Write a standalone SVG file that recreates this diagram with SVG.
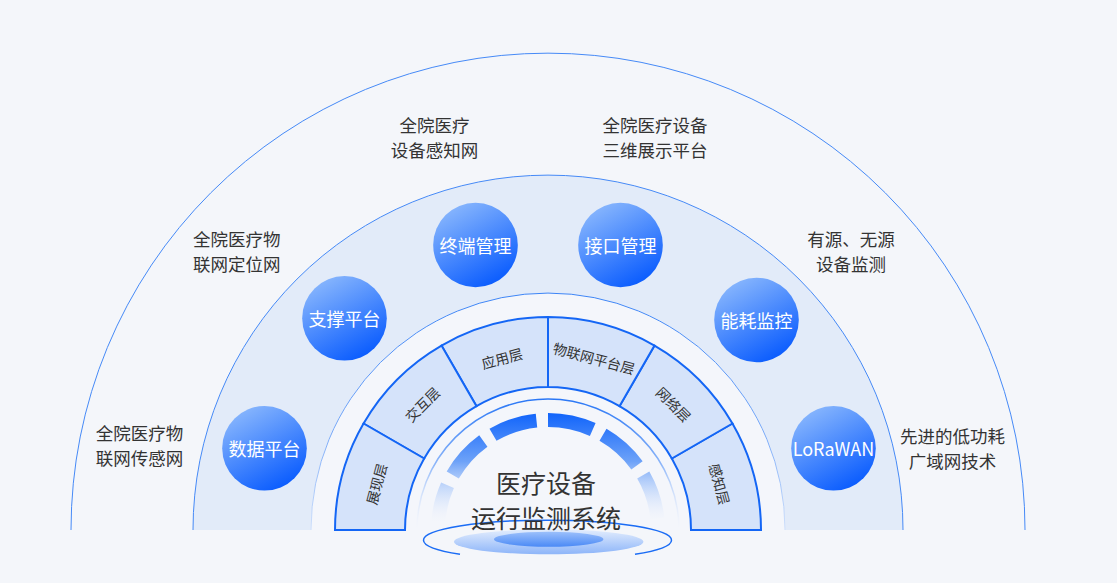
<svg xmlns="http://www.w3.org/2000/svg" width="1117" height="583" viewBox="0 0 1117 583">
<defs>
<style>
.lbl{font-family:"Noto Sans CJK SC","Noto Sans",sans-serif;font-size:17.5px;fill:#333333;text-anchor:middle;dominant-baseline:central}
.node-t{font-family:"Noto Sans CJK SC","Noto Sans",sans-serif;font-size:18px;fill:#ffffff;text-anchor:middle;dominant-baseline:central}
.layer-t{font-family:"Noto Sans CJK SC","Noto Sans",sans-serif;font-size:14px;fill:#333333;text-anchor:middle;dominant-baseline:central}
.title{font-family:"Noto Sans CJK SC","Noto Sans",sans-serif;font-size:25px;fill:#333333;text-anchor:middle;dominant-baseline:central}
.seg{fill:#d5e3fa;stroke:#1466f5;stroke-width:2;stroke-linejoin:miter}
.thin{fill:none;stroke:#468af7;stroke-width:1}
.gauge{fill:none;stroke:url(#gaugeG);stroke-width:14}
.node{fill:url(#nodeG)}
</style>
<linearGradient id="nodeG" x1="0.25" y1="0.05" x2="0.75" y2="0.95">
<stop offset="0" stop-color="#85b4fd"/>
<stop offset="1" stop-color="#0a5cfe"/>
</linearGradient>
<linearGradient id="gaugeG" gradientUnits="userSpaceOnUse" x1="0" y1="412" x2="0" y2="522">
<stop offset="0" stop-color="#0f63fb"/>
<stop offset="0.45" stop-color="#6da2f8"/>
<stop offset="1" stop-color="#e6eefc" stop-opacity="0"/>
</linearGradient>
<linearGradient id="fadeG" gradientUnits="userSpaceOnUse" x1="0" y1="293" x2="0" y2="530">
<stop offset="0" stop-color="#3c84f6"/>
<stop offset="0.6" stop-color="#7aaaf8"/>
<stop offset="1" stop-color="#cfe0fb"/>
</linearGradient>
<linearGradient id="innerG" gradientUnits="userSpaceOnUse" x1="0" y1="399" x2="0" y2="530">
<stop offset="0" stop-color="#2a77f6"/>
<stop offset="0.5" stop-color="#8db6f9"/>
<stop offset="1" stop-color="#e8effc" stop-opacity="0"/>
</linearGradient>
<linearGradient id="ellG" x1="0" y1="0" x2="0" y2="1">
<stop offset="0" stop-color="#e3edfd"/>
<stop offset="1" stop-color="#8db5f9"/>
</linearGradient>
<linearGradient id="ell2G" x1="0" y1="0" x2="0" y2="1">
<stop offset="0" stop-color="#9cc0fb"/>
<stop offset="1" stop-color="#4b8af6"/>
</linearGradient>
</defs>
<rect width="1117" height="583" fill="#f4f6fa"/>

<g id="rings">
<path d="M71 530 A477 477 0 0 1 1025 530" class="thin"/>
<path d="M193 530 A355 355 0 0 1 903 530 Z" fill="#e2ebf9"/>
<path d="M193 530 A355 355 0 0 1 903 530" class="thin"/>
<path d="M311 530 A237 237 0 0 1 785 530 Z" fill="#f4f6fb"/>
<path d="M311 530 A237 237 0 0 1 785 530" fill="none" stroke="url(#fadeG)" stroke-width="1"/>
</g>

<g id="layers">
<g id="layer-perception">
<path class="seg" d="M761 530 A213 213 0 0 0 732.46 423.5 L671.84 458.5 A143 143 0 0 1 691 530 Z"/>
<text class="layer-t" transform="translate(719.93 483.93) rotate(75)">感知层</text>
</g>
<g id="layer-network">
<path class="seg" d="M732.46 423.5 A213 213 0 0 0 654.5 345.54 L619.5 406.16 A143 143 0 0 1 671.84 458.5 Z"/>
<text class="layer-t" transform="translate(673.86 404.14) rotate(45)">网络层</text>
</g>
<g id="layer-iot">
<path class="seg" d="M654.5 345.54 A213 213 0 0 0 548 317 L548 387 A143 143 0 0 1 619.5 406.16 Z"/>
<text class="layer-t" transform="translate(594.07 358.07) rotate(15)">物联网平台层</text>
</g>
<g id="layer-app">
<path class="seg" d="M548 317 A213 213 0 0 0 441.5 345.54 L476.5 406.16 A143 143 0 0 1 548 387 Z"/>
<text class="layer-t" transform="translate(501.93 358.07) rotate(-15)">应用层</text>
</g>
<g id="layer-interact">
<path class="seg" d="M441.5 345.54 A213 213 0 0 0 363.54 423.5 L424.16 458.5 A143 143 0 0 1 476.5 406.16 Z"/>
<text class="layer-t" transform="translate(422.14 404.14) rotate(-45)">交互层</text>
</g>
<g id="layer-display">
<path class="seg" d="M363.54 423.5 A213 213 0 0 0 335 530 L405 530 A143 143 0 0 1 424.16 458.5 Z"/>
<text class="layer-t" transform="translate(376.07 483.93) rotate(-75)">展现层</text>
</g>
</g>

<g id="core">
<path d="M417 530 A131 131 0 0 1 679 530" fill="none" stroke="url(#innerG)" stroke-width="1.5"/>
<path class="gauge" d="M657.40 518.50 A110 110 0 0 0 643.26 475"/>
<path class="gauge" d="M636.99 465.34 A110 110 0 0 0 603 434.74"/>
<path class="gauge" d="M592.74 429.51 A110 110 0 0 0 548 420"/>
<path class="gauge" d="M536.50 420.60 A110 110 0 0 0 493 434.74"/>
<path class="gauge" d="M483.34 441.01 A110 110 0 0 0 452.74 475"/>
<path class="gauge" d="M447.51 485.26 A110 110 0 0 0 438 530"/>
<path d="M460 554.3 A124 20 0 1 1 635 554.3" fill="none" stroke="#1a6cf5" stroke-width="1.5"/>
<ellipse cx="548.7" cy="541.8" rx="94.7" ry="12.5" fill="url(#ellG)"/>
<ellipse cx="548.7" cy="539.2" rx="54.7" ry="7.5" fill="url(#ell2G)"/>
<text class="title" x="546" y="482">医疗设备</text>
<text class="title" x="546" y="517">运行监测系统</text>
</g>

<g id="node-data">
<circle class="node" cx="264.5" cy="448.3" r="42.3"/>
<text class="node-t" x="264.5" y="448.3">数据平台</text>
</g>
<g id="node-support">
<circle class="node" cx="344.5" cy="318.3" r="42.3"/>
<text class="node-t" x="344.5" y="318.3">支撑平台</text>
</g>
<g id="node-terminal">
<circle class="node" cx="475.5" cy="245" r="42.3"/>
<text class="node-t" x="475.5" y="245">终端管理</text>
</g>
<g id="node-interface">
<circle class="node" cx="620.5" cy="245" r="42.3"/>
<text class="node-t" x="620.5" y="245">接口管理</text>
</g>
<g id="node-energy">
<circle class="node" cx="756.5" cy="320" r="42.3"/>
<text class="node-t" x="756.5" y="320">能耗监控</text>
</g>
<g id="node-lorawan">
<circle class="node" cx="833.5" cy="448.3" r="42.3"/>
<text class="node-t" x="833.5" y="448.3">LoRaWAN</text>
</g>

<g id="labels">
<text class="lbl" x="139.5" y="432">全院医疗物</text>
<text class="lbl" x="139.5" y="457">联网传感网</text>
<text class="lbl" x="236.7" y="238.5">全院医疗物</text>
<text class="lbl" x="236.7" y="263.5">联网定位网</text>
<text class="lbl" x="434.5" y="124">全院医疗</text>
<text class="lbl" x="434.5" y="149">设备感知网</text>
<text class="lbl" x="655" y="124">全院医疗设备</text>
<text class="lbl" x="655" y="149">三维展示平台</text>
<text class="lbl" x="851" y="238.5">有源、无源</text>
<text class="lbl" x="851" y="263.5">设备监测</text>
<text class="lbl" x="952.5" y="435">先进的低功耗</text>
<text class="lbl" x="952.5" y="460">广域网技术</text>
</g>
</svg>
